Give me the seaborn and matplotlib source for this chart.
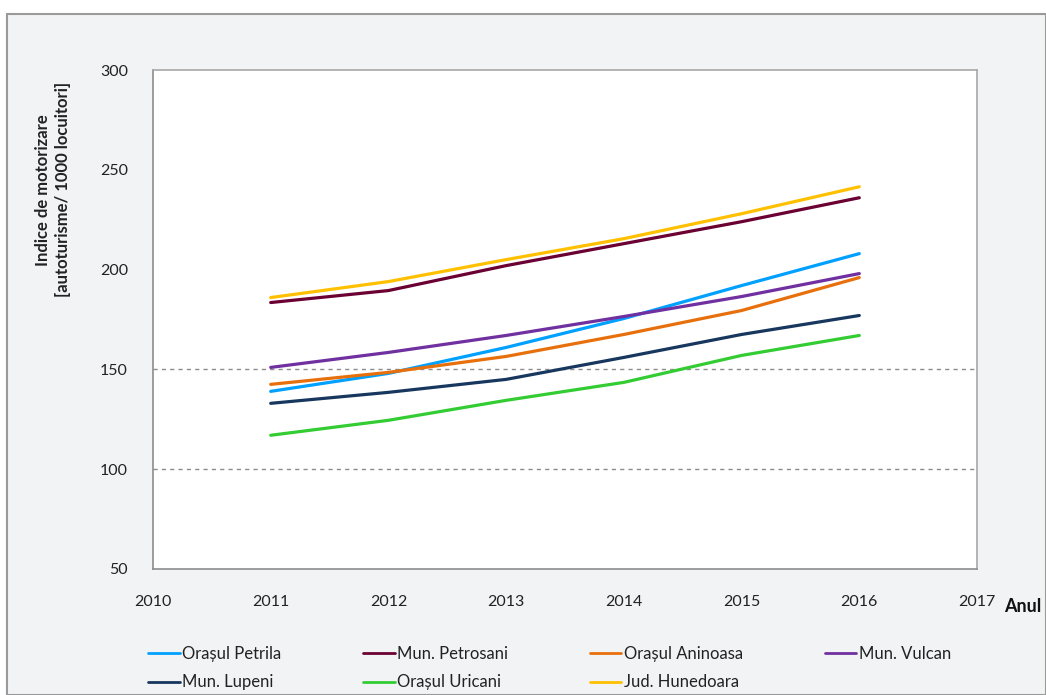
import pandas as pd
import seaborn as sns
import matplotlib.pyplot as plt
from matplotlib.patches import Rectangle

# values
years = [2011, 2012, 2013, 2014, 2015, 2016]
petrila = [139, 148, 161, 175.5, 192, 208]
petrosani = [183.5, 189.5, 202, 213, 224, 236]
aninoasa = [142.5, 148.5, 156.5, 167.5, 179.5, 196]
vulcan = [151, 158.5, 167, 176.5, 186.5, 198]
lupeni = [133, 138.5, 145, 156, 167.5, 177]
uricani = [117, 124.5, 134.5, 143.5, 157, 167]
hunedoara = [186, 194, 205, 215.5, 228, 241.5]

series_names = ["Orașul Petrila", "Mun. Petrosani", "Orașul Aninoasa", "Mun. Vulcan",
                "Mun. Lupeni", "Orașul Uricani", "Jud. Hunedoara"]
series_vals = [petrila, petrosani, aninoasa, vulcan, lupeni, uricani, hunedoara]
colors = ["#00a0ff", "#6b0032", "#e8700c", "#7030a0", "#17375e", "#33cc33", "#ffc000"]

rows = []
for name, vals in zip(series_names, series_vals):
    for y, v in zip(years, vals):
        rows.append({"An": y, "Indice": v, "Serie": name})
df = pd.DataFrame(rows)

sns.set_style("white")
plt.rcParams['font.family'] = ['Lato', 'DejaVu Sans']

fig = plt.figure(figsize=(10.46, 6.95), dpi=100)
fig.patch.set_facecolor("white")
# chart area background + border
fig.patches.append(Rectangle((7 / 1046, 0), 1 - 7 / 1046, 1 - 14 / 695, transform=fig.transFigure,
                             facecolor="#f2f3f5", edgecolor="#9a9a9a", linewidth=1.5, zorder=-10))

ax = fig.add_axes([153 / 1046, 1 - 569 / 695, (977 - 153) / 1046, (569 - 70) / 695])
ax.set_facecolor("white")

for yv in [100, 150]:
    ax.axhline(yv, color="#8c8c8c", linestyle=(0, (3, 3)), linewidth=1, zorder=1)

sns.lineplot(data=df, x="An", y="Indice", hue="Serie", hue_order=series_names,
             palette=colors, linewidth=2.3, ax=ax, legend=False, zorder=3)

ax.set_xlim(2010, 2017)
ax.set_ylim(50, 300)
ax.set_xticks(range(2010, 2018))
ax.set_yticks([50, 100, 150, 200, 250, 300])
ax.tick_params(axis="x", direction="out", length=5, color="#8c8c8c", labelsize=11.5,
               pad=14, labelcolor="#222222")
ax.tick_params(axis="y", length=0, labelsize=11.5, pad=18, labelcolor="#222222")
for s in ax.spines.values():
    s.set_color("#a8a8a8")
    s.set_linewidth(1.2)
ax.spines["left"].set_color("#8c8c8c")
ax.spines["bottom"].set_color("#8c8c8c")

ax.set_xlabel("")
ax.set_ylabel("Indice de motorizare\n[autoturisme/ 1000 locuitori]", fontsize=12,
              fontweight="bold", color="#222222", linespacing=1.25)
ax.yaxis.set_label_coords(-0.10, 0.76)
ax.text(1.033, -0.075, "Anul", transform=ax.transAxes, fontsize=13, fontweight="bold",
        ha="left", va="center", color="#111111")

# legend is filled column by column -> reorder so rows read as in the original
order = [0, 4, 1, 5, 2, 6, 3]
handles = [plt.Line2D([], [], color=colors[i], linewidth=2) for i in order]
labels = [series_names[i] for i in order]
fig.legend(handles, labels, loc="lower left", bbox_to_anchor=(0.127, -0.015),
           ncol=4, frameon=False, fontsize=12, handlelength=1.9, handletextpad=0.15,
           columnspacing=4.9, labelspacing=0.75, labelcolor="#222222")

fig.savefig("out.png", dpi=100)
